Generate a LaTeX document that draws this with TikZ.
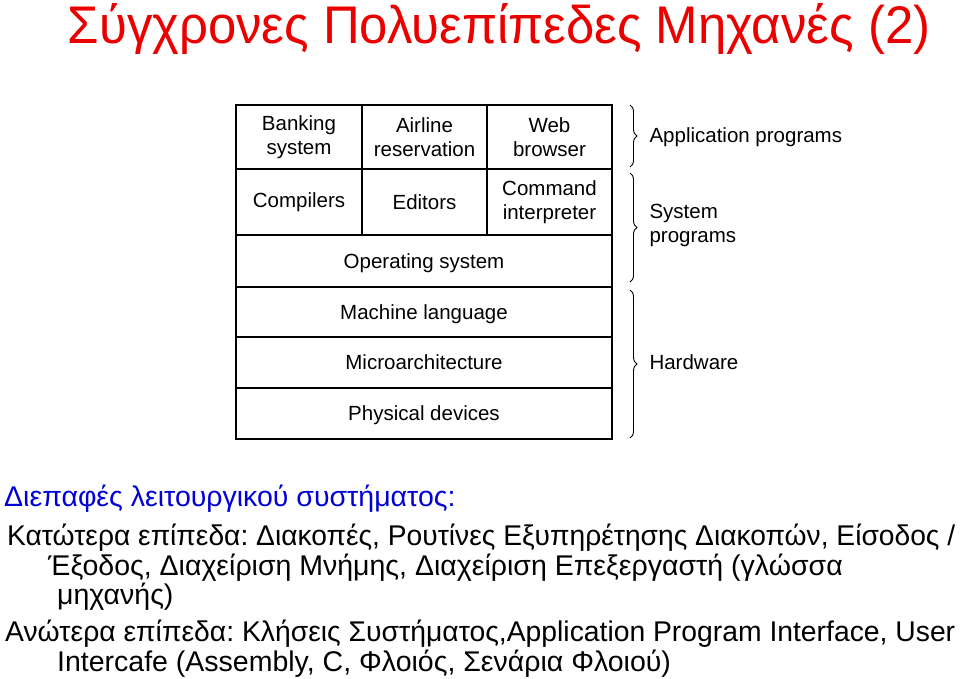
\documentclass[tikz,border=0pt]{standalone}
\usepackage{fontspec}
\setmainfont{Liberation Sans}
\usetikzlibrary{decorations.pathreplacing}
\usetikzlibrary{positioning}
\frenchspacing

\definecolor{titlered}{RGB}{235,0,0}
\definecolor{headblue}{RGB}{0,0,215}
\newcommand{\fitto}[2]{\resizebox{#1}{\height}{#2}}

\begin{document}
\begin{tikzpicture}[x=1pt,y=-1pt]
	\useasboundingbox (0,0) rectangle (960,678);

	\node[anchor=base, text=titlered, font=\fontsize{53}{60}\selectfont] (title) at (499,43) {\scalebox{0.96}[1]{Σύγχρονες Πολυεπίπεδες Μηχανές (2)}};

	\begin{scope}[every node/.style={draw, line width=2pt, inner sep=0pt, align=center,
	              font=\fontsize{20.5}{24}\selectfont}]
		\node[minimum width=126pt, minimum height=64pt] (bank) at (299,137) {Banking\\system};
		\node[minimum width=125pt, minimum height=64pt] (air) at (424.5,137) {Airline\\reservation};
		\node[minimum width=125pt, minimum height=64pt] (web) at (549.5,137) {Web\\browser};
		\node[minimum width=126pt, minimum height=66pt] (comp) at (299,202) {Compilers};
		\node[minimum width=125pt, minimum height=66pt] (edit) at (424.5,202) {Editors};
		\node[minimum width=125pt, minimum height=66pt] (cmd) at (549.5,202) {Command\\interpreter};
		\node[minimum width=376pt, minimum height=52pt, text depth=0pt] (os) at (424,261) {Operating system};
		\node[minimum width=376pt, minimum height=50pt, text depth=0pt] (mach) at (424,312) {Machine language};
		\node[minimum width=376pt, minimum height=51pt, text depth=0pt] (micro) at (424,362.5) {Microarchitecture};
		\node[minimum width=376pt, minimum height=51pt, text depth=0pt] (phys) at (424,413.5) {Physical devices};
	\end{scope}

	\begin{scope}[decoration={brace, amplitude=7pt}, line width=0.9pt]
		\coordinate (a1) at (630,105);
		\coordinate (a2) at (630,167);
		\coordinate (s1) at (630,173);
		\coordinate (s2) at (630,282);
		\coordinate (h1) at (630,290);
		\coordinate (h2) at (630,438);
		\draw[decorate] (a1) -- (a2);
		\draw[decorate] (s1) -- (s2);
		\draw[decorate] (h1) -- (h2);
	\end{scope}

	\begin{scope}[every node/.style={anchor=west, align=left, font=\fontsize{20.5}{24}\selectfont}]
		\node (apps) at (646,137) {Application programs};
		\node (sysp) at (646,225) {System\\programs};
		\node (hw) at (646,362) {Hardware};
	\end{scope}

	\begin{scope}[every node/.style={anchor=base west, inner sep=0pt, font=\fontsize{28.5}{30}\selectfont}]
		\node[text=headblue] (head) at (4,506) {Διεπαφές λειτουργικού συστήματος:};
		\node (low1) at (7,545) {\fitto{948pt}{Κατώτερα επίπεδα: Διακοπές, Ρουτίνες Εξυπηρέτησης Διακοπών, Είσοδος /}};
		\node (low2) at (48,575) {Έξοδος, Διαχείριση Μνήμης, Διαχείριση Επεξεργαστή (γλώσσα};
		\node (low3) at (57,604) {μηχανής)};
		\node (up1) at (5,641) {\fitto{950pt}{Ανώτερα επίπεδα: Κλήσεις Συστήματος,Application Program Interface, User}};
		\node (up2) at (57,671) {Intercafe (Assembly, C, Φλοιός, Σενάρια Φλοιού)};
	\end{scope}
\end{tikzpicture}
\end{document}
